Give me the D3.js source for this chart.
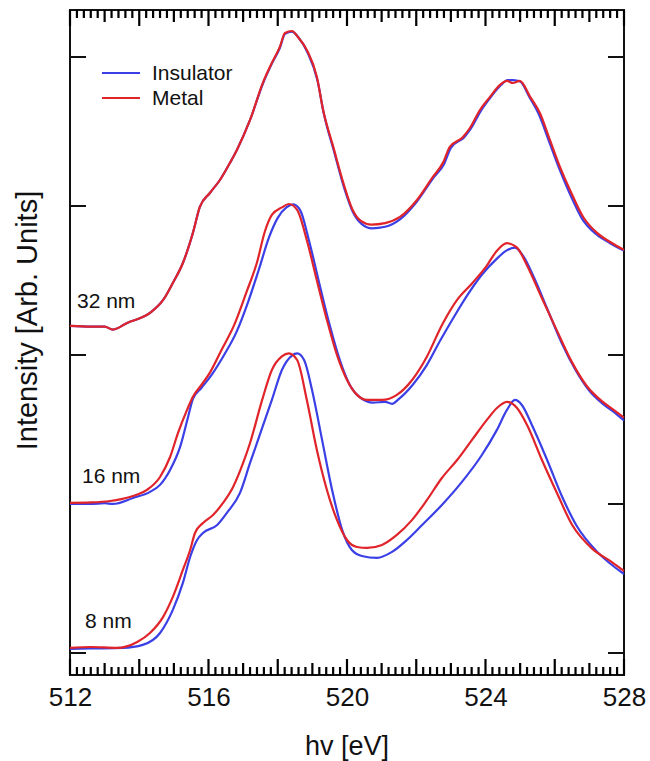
<!DOCTYPE html>
<html>
<head>
<meta charset="utf-8">
<script src="https://cdn.jsdelivr.net/npm/d3@7"></script>
<style>
  body { margin: 0; background: #fff; }
  text { font-family: "Liberation Sans", Arial, sans-serif; fill: #111; }
</style>
</head>
<body>
<div class="container"></div>
<script>
// energies [eV] and intensities (arb. units, offset per thickness)
const ins32x = [512, 512.6, 513.0, 513.24, 513.65, 514.31, 514.69, 514.97, 515.26, 515.55, 515.75, 516.04, 516.33, 516.62, 516.82, 517.2, 517.57, 517.83, 518.06, 518.21, 518.41, 518.6, 518.86, 519.15, 519.33, 519.62, 519.92, 520.17, 520.42, 520.72, 521.1, 521.53, 522.02, 522.5, 522.8, 523.0, 523.38, 523.58, 523.87, 524.15, 524.44, 524.64, 524.8, 525.0, 525.27, 525.55, 525.84, 526.13, 526.42, 526.8, 527.2, 527.6, 528];
const ins32y = [2.195, 2.19, 2.19, 2.17, 2.215, 2.282, 2.369, 2.483, 2.617, 2.819, 2.993, 3.087, 3.174, 3.289, 3.376, 3.577, 3.82, 3.955, 4.06, 4.155, 4.17, 4.13, 4.03, 3.84, 3.62, 3.37, 3.12, 2.96, 2.88, 2.85, 2.86, 2.91, 3.03, 3.19, 3.28, 3.39, 3.46, 3.52, 3.64, 3.73, 3.81, 3.845, 3.845, 3.835, 3.73, 3.61, 3.43, 3.25, 3.09, 2.91, 2.81, 2.75, 2.70];
const met32x = [512, 512.6, 513.0, 513.24, 513.65, 514.31, 514.69, 514.97, 515.26, 515.55, 515.75, 516.04, 516.33, 516.62, 516.82, 517.2, 517.57, 517.83, 518.06, 518.21, 518.41, 518.58, 518.84, 519.13, 519.31, 519.6, 519.9, 520.15, 520.4, 520.7, 521.1, 521.53, 522.02, 522.48, 522.77, 522.97, 523.35, 523.55, 523.84, 524.13, 524.42, 524.62, 524.79, 524.99, 525.29, 525.57, 525.86, 526.15, 526.44, 526.82, 527.22, 527.6, 528];
const met32y = [2.195, 2.19, 2.19, 2.17, 2.215, 2.282, 2.369, 2.483, 2.617, 2.819, 2.993, 3.087, 3.174, 3.289, 3.376, 3.577, 3.826, 3.96, 4.067, 4.161, 4.174, 4.134, 4.047, 3.866, 3.644, 3.4, 3.15, 2.98, 2.9, 2.875, 2.885, 2.926, 3.04, 3.195, 3.289, 3.396, 3.463, 3.523, 3.644, 3.732, 3.812, 3.839, 3.825, 3.839, 3.732, 3.624, 3.443, 3.262, 3.107, 2.926, 2.819, 2.758, 2.705];

const ins16x = [512, 512.6, 513.0, 513.24, 513.82, 514.31, 514.6, 514.89, 515.18, 515.41, 515.55, 515.8, 516.1, 516.45, 516.8, 517.15, 517.45, 517.75, 518.0, 518.25, 518.45, 518.65, 518.9, 519.2, 519.5, 519.8, 520.1, 520.4, 520.75, 521.1, 521.3, 521.5, 521.9, 522.3, 522.7, 523.1, 523.5, 523.9, 524.3, 524.6, 524.85, 525.1, 525.4, 525.8, 526.2, 526.6, 527.0, 527.4, 527.8, 528];
const ins16y = [1.0, 1.0, 1.005, 1.0, 1.04, 1.081, 1.128, 1.228, 1.383, 1.584, 1.705, 1.78, 1.87, 2.0, 2.15, 2.36, 2.57, 2.79, 2.92, 2.99, 3.01, 2.97, 2.77, 2.48, 2.2, 1.96, 1.79, 1.71, 1.68, 1.685, 1.672, 1.705, 1.8, 1.93, 2.1, 2.26, 2.41, 2.54, 2.64, 2.7, 2.72, 2.66, 2.52, 2.3, 2.08, 1.9, 1.76, 1.67, 1.6, 1.56];
const met16x = [512, 512.6, 513.16, 513.73, 514.22, 514.6, 514.89, 515.12, 515.38, 515.55, 515.8, 516.05, 516.39, 516.74, 517.11, 517.4, 517.63, 517.83, 518.12, 518.32, 518.56, 518.84, 519.13, 519.42, 519.71, 520.0, 520.29, 520.58, 521.01, 521.44, 521.88, 522.31, 522.74, 523.18, 523.61, 524.04, 524.33, 524.62, 524.91, 525.2, 525.63, 526.07, 526.5, 526.93, 527.36, 527.71, 528];
const met16y = [1.007, 1.01, 1.02, 1.047, 1.094, 1.181, 1.315, 1.477, 1.631, 1.72, 1.8, 1.885, 2.04, 2.2, 2.43, 2.62, 2.83, 2.94, 2.99, 3.013, 2.973, 2.77, 2.5, 2.235, 2.0, 1.832, 1.732, 1.698, 1.698, 1.732, 1.832, 1.99, 2.2, 2.37, 2.48, 2.6, 2.7, 2.75, 2.72, 2.6, 2.38, 2.16, 1.95, 1.79, 1.69, 1.63, 1.58];

const ins8x = [512, 512.6, 513.53, 514.1, 514.6, 514.97, 515.26, 515.47, 515.67, 515.84, 516.25, 516.53, 516.91, 517.2, 517.83, 518.12, 518.41, 518.56, 518.76, 518.99, 519.28, 519.57, 519.86, 520.14, 520.43, 520.87, 521.3, 521.73, 522.17, 522.74, 523.32, 523.9, 524.33, 524.62, 524.85, 525.05, 525.34, 525.78, 526.21, 526.64, 527.22, 528];
const ins8y = [0.027, 0.03, 0.034, 0.054, 0.134, 0.289, 0.47, 0.644, 0.758, 0.805, 0.859, 0.94, 1.074, 1.275, 1.698, 1.899, 1.996, 2.01, 1.966, 1.765, 1.43, 1.094, 0.826, 0.691, 0.651, 0.638, 0.678, 0.758, 0.859, 0.993, 1.148, 1.33, 1.497, 1.631, 1.698, 1.664, 1.53, 1.295, 1.05, 0.85, 0.68, 0.53];
const met8x = [512, 512.6, 513.36, 513.94, 514.31, 514.69, 514.97, 515.26, 515.47, 515.61, 515.84, 516.13, 516.42, 516.71, 517.0, 517.2, 517.55, 517.83, 518.12, 518.32, 518.56, 518.84, 519.13, 519.42, 519.71, 520.0, 520.29, 520.58, 521.01, 521.44, 521.88, 522.31, 522.74, 523.18, 523.61, 524.04, 524.33, 524.62, 524.91, 525.2, 525.63, 526.07, 526.5, 527.08, 527.65, 528];
const met8y = [0.034, 0.04, 0.034, 0.074, 0.134, 0.242, 0.376, 0.557, 0.691, 0.805, 0.872, 0.926, 1.007, 1.114, 1.275, 1.409, 1.698, 1.899, 1.99, 2.01, 1.966, 1.698, 1.362, 1.094, 0.893, 0.758, 0.711, 0.705, 0.725, 0.792, 0.893, 1.027, 1.174, 1.295, 1.43, 1.564, 1.644, 1.685, 1.644, 1.53, 1.295, 1.07, 0.86, 0.70, 0.61, 0.55];

const seriesNames = ['Insulator', 'Metal'];
const thicknessLabels = ['32 nm', '16 nm', '8 nm'];
const xTickLabels = [512, 516, 520, 524, 528];
const yTicks = [0, 1, 2, 3, 4];

const renderSpectra = () => {
  const width = 650;
  const height = 761;
  const left = 70, right = 624, top = 10, bottom = 675;
  const blue = '#3b3fe6';
  const red = '#e0242a';

  const svg = d3.select('.container').append('svg').attr('width', width).attr('height', height);

  //scales
  const xScale = d3.scaleLinear().domain([512, 528]).range([left, right]);
  const yScale = d3.scaleLinear().domain([-0.148, 4.315]).range([bottom, top]);

  //frame
  svg.append('rect').attr('x', left).attr('y', top).attr('width', right - left).attr('height', bottom - top)
    .attr('fill', 'none').attr('stroke', '#111').attr('stroke-width', 2);

  //x ticks every 0.2 eV, longer each 1 eV and 2 eV
  const minor = d3.range(0, 81).map(i => 512 + i * 0.2);
  const tickLen = d => {
    const n = Math.round(d * 5);
    if (n % 10 === 0) return 16;
    if (n % 5 === 0) return 12;
    return 8;
  };

  const xTicks = d3.path();
  minor.forEach(d => {
    const x = xScale(d);
    xTicks.moveTo(x, bottom);
    xTicks.lineTo(x, bottom - tickLen(d));
    xTicks.moveTo(x, top);
    xTicks.lineTo(x, top + tickLen(d));
  });
  svg.append('path').attr('class', 'x-ticks').attr('d', xTicks.toString())
    .attr('fill', 'none').attr('stroke', '#000').attr('stroke-width', 2.2);

  const sideTicks = d3.path();
  yTicks.forEach(d => {
    const y = yScale(d);
    sideTicks.moveTo(left, y);
    sideTicks.lineTo(left + 16, y);
    sideTicks.moveTo(right, y);
    sideTicks.lineTo(right - 16, y);
  });
  svg.append('path').attr('class', 'y-ticks').attr('d', sideTicks.toString())
    .attr('fill', 'none').attr('stroke', '#111').attr('stroke-width', 2);

  //tick labels
  const labelAxis = svg.append('g').attr('transform', `translate(0,${bottom})`)
    .call(d3.axisBottom(xScale).tickValues(xTickLabels).tickSize(0).tickPadding(13).tickFormat(d3.format('d')));
  labelAxis.select('.domain').remove();
  labelAxis.selectAll('text').attr('font-size', 26).attr('font-family', '"Liberation Sans", Arial, sans-serif').attr('fill', '#111');

  //lines
  const line = d3.line().x(d => xScale(d[0])).y(d => yScale(d[1])).curve(d3.curveMonotoneX);
  const linesGroup = svg.append('g').attr('class', 'lines');
  const pairs = [
    [ins32x, ins32y, met32x, met32y],
    [ins16x, ins16y, met16x, met16y],
    [ins8x, ins8y, met8x, met8y]
  ];
  pairs.forEach(p => {
    linesGroup.append('path').attr('d', line(d3.zip(p[0], p[1])))
      .attr('fill', 'none').attr('stroke', blue).attr('stroke-width', 2.2).attr('stroke-linejoin', 'round');
    linesGroup.append('path').attr('d', line(d3.zip(p[2], p[3])))
      .attr('fill', 'none').attr('stroke', red).attr('stroke-width', 2.2).attr('stroke-linejoin', 'round');
  });

  //thickness labels
  const labelPos = [[77, 308], [82, 483], [85, 628]];
  thicknessLabels.forEach((t, i) => {
    svg.append('text').text(t).attr('x', labelPos[i][0]).attr('y', labelPos[i][1]).attr('font-size', 21);
  });

  //legend
  seriesNames.forEach((name, i) => {
    const ly = 73 + i * 25;
    svg.append('line').attr('x1', 102).attr('x2', 140).attr('y1', ly).attr('y2', ly)
      .attr('stroke', i === 0 ? blue : red).attr('stroke-width', 2.2);
    svg.append('text').text(name).attr('x', 152).attr('y', ly + 7).attr('font-size', 21);
  });

  //axis titles
  svg.append('text').text('hv [eV]').attr('x', (left + right) / 2).attr('y', 755)
    .attr('text-anchor', 'middle').attr('font-size', 27);
  svg.append('text').text('Intensity [Arb. Units]')
    .attr('transform', `translate(37,${(top + bottom) / 2 - 22}) rotate(-90)`)
    .attr('text-anchor', 'middle').attr('font-size', 29);
};

renderSpectra();
</script>
</body>
</html>
